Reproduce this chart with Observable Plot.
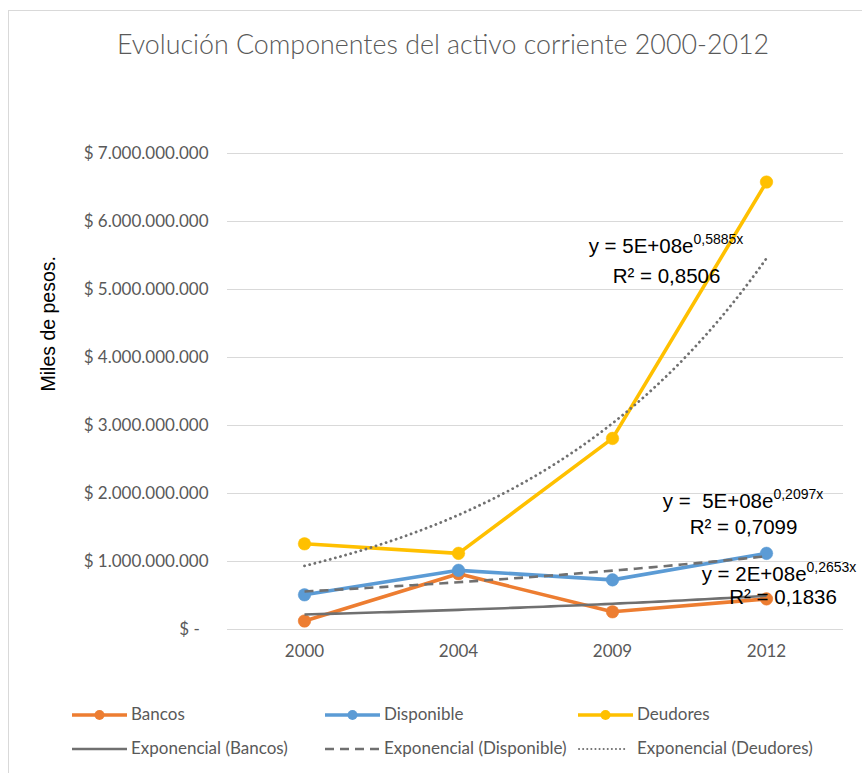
<!DOCTYPE html>
<html><head><meta charset="utf-8">
<script src="https://cdn.jsdelivr.net/npm/d3@7"></script>
<script src="https://cdn.jsdelivr.net/npm/@observablehq/plot@0.6"></script>
<style>
body{margin:0;background:#fff;}
#wrap{position:relative;width:862px;height:773px;overflow:hidden;font-family:Lato,sans-serif;background:#fff;}
#frame{position:absolute;left:8px;top:10px;width:900px;height:800px;border-left:1.5px solid #d9d9d9;border-top:1.5px solid #d9d9d9;}
#title{position:absolute;left:0;width:886px;top:28px;text-align:center;font-size:26.8px;font-weight:300;color:#595959;white-space:nowrap;}
#chart{position:absolute;left:0;top:120px;}
.leg{position:absolute;font-size:17px;color:#595959;white-space:nowrap;line-height:18px;}
.sw{position:absolute;}
</style></head><body>
<div id="wrap"><div id="frame"></div><div id="title">Evolución Componentes del activo corriente 2000-2012</div><div id="chart"></div><div id="legend"></div></div>
<script>
const years = ["2000", "2004", "2009", "2012"];
const bancos = [0.125e9, 0.82e9, 0.26e9, 0.45e9];
const disponible = [0.51e9, 0.87e9, 0.73e9, 1.12e9];
const deudores = [1.26e9, 1.12e9, 2.81e9, 6.58e9];
const yTickValues = [0, 1e9, 2e9, 3e9, 4e9, 5e9, 6e9, 7e9];
const seriesNames = ["Bancos", "Disponible", "Deudores"];
const trendNames = ["Exponencial (Bancos)", "Exponencial (Disponible)", "Exponencial (Deudores)"];
const eqMain = ["y = 5E+08e", "y =  5E+08e", "y = 2E+08e"];
const eqExp = ["0,5885x", "0,2097x", "0,2653x"];
const eqR2 = ["R² = 0,8506", "R² = 0,7099", "R² = 0,1836"];
const eqMainX = [3.526, 4.045, 4.26], eqMainY = [5.53e9, 1.79e9, 0.72e9];
const eqR2X = [3.351, 3.851, 4.107], eqR2Y = [5.10e9, 1.41e9, 0.38e9];

const colors = ["#ED7D31", "#5B9BD5", "#FFC000"];
const trendColor = "#707070";
const dashes = [null, "9,6", "0.1,5.2"];

const seriesVals = [bancos, disponible, deudores];
const rows = [];
seriesVals.forEach((vals, s) => vals.forEach((v, i) => rows.push({s: seriesNames[s], x: i + 1, y: v})));

function expFit(vals) {
  const xs = vals.map((_, i) => i + 1), ly = vals.map(Math.log);
  const mx = d3.mean(xs), my = d3.mean(ly);
  const b = d3.sum(xs, (x, i) => (x - mx) * (ly[i] - my)) / d3.sum(xs, x => (x - mx) ** 2);
  const a = Math.exp(my - b * mx);
  return {a, b};
}
const trends = seriesVals.map((vals, s) => {
  const {a, b} = expFit(vals);
  return d3.range(1, 4.0001, 0.05).map(x => ({s: trendNames[s], x, y: a * Math.exp(b * x)}));
});

const yFmt = d => d === 0 ? "$ -\u00a0\u00a0" : "$ " + d3.format(",")(d).replace(/,/g, ".");
const eqFont = "'Liberation Sans', Arial, sans-serif";

const marks = [
  Plot.gridY(yTickValues, {stroke: "#d9d9d9", strokeOpacity: 1, strokeWidth: 1}),
  Plot.axisY({ticks: yTickValues, tickFormat: yFmt, tickSize: 0, tickPadding: 19, fontSize: 17, fill: "#595959", label: null}),
  Plot.axisX({ticks: [1, 2, 3, 4], tickFormat: d => years[d - 1], tickSize: 0, tickPadding: 15, fontSize: 17, fill: "#595959", label: null}),
  Plot.text(["Miles de pesos."], {frameAnchor: "left", dx: -179, rotate: -90, fontSize: 19.5, fontFamily: eqFont, fill: "#000"})
];
seriesNames.forEach((name, s) => {
  const d = rows.filter(r => r.s === name);
  marks.push(Plot.line(d, {x: "x", y: "y", stroke: colors[s], strokeWidth: 3.6, strokeLinejoin: "round"}));
  marks.push(Plot.dot(d, {x: "x", y: "y", r: 6.3, fill: colors[s], stroke: colors[s], strokeWidth: 0.5}));
});
trends.forEach((t, s) => {
  marks.push(Plot.line(t, {x: "x", y: "y", stroke: trendColor, strokeWidth: s === 2 ? 2.8 : 2.6, strokeDasharray: dashes[s], strokeLinecap: s === 2 ? "round" : "butt", curve: "linear"}));
});
eqMain.forEach((t, i) => {
  marks.push(Plot.text([t], {x: () => eqMainX[i], y: () => eqMainY[i], text: d => d, textAnchor: "end", lineAnchor: "bottom", fontSize: 20.5, fontFamily: eqFont, fill: "#000"}));
  marks.push(Plot.text([eqExp[i]], {x: () => eqMainX[i], y: () => eqMainY[i], text: d => d, textAnchor: "start", lineAnchor: "bottom", dy: -9, fontSize: 14, fontFamily: eqFont, fill: "#000"}));
  marks.push(Plot.text([eqR2[i]], {x: () => eqR2X[i], y: () => eqR2Y[i], text: d => d, textAnchor: "middle", lineAnchor: "bottom", fontSize: 20.5, fontFamily: eqFont, fill: "#000"}));
});

const chart = Plot.plot({
  width: 862, height: 550,
  marginLeft: 227, marginRight: 19, marginTop: 33, marginBottom: 41,
  style: {fontFamily: "Lato, sans-serif", background: "transparent", overflow: "visible"},
  x: {type: "linear", domain: [0.5, 4.5]},
  y: {domain: [0, 7e9]},
  marks
});
document.getElementById("chart").appendChild(chart);

// legend
const legCols = [72, 325, 578], legRows = [715, 749];
const leg = document.getElementById("legend");
const ns = "http://www.w3.org/2000/svg";
function addItem(col, row, label, draw) {
  const svg = document.createElementNS(ns, "svg");
  svg.setAttribute("width", 58); svg.setAttribute("height", 16);
  svg.setAttribute("class", "sw");
  svg.style.left = legCols[col] + "px"; svg.style.top = (legRows[row] - 8) + "px";
  draw(svg);
  leg.appendChild(svg);
  const t = document.createElement("div");
  t.className = "leg"; t.textContent = label;
  t.style.left = (legCols[col] + 59) + "px"; t.style.top = (legRows[row] - 10) + "px";
  leg.appendChild(t);
}
function el(tag, attrs) { const e = document.createElementNS(ns, tag); for (const k in attrs) e.setAttribute(k, attrs[k]); return e; }
seriesNames.forEach((name, s) => addItem(s, 0, name, svg => {
  svg.appendChild(el("line", {x1: 0, x2: 55, y1: 8, y2: 8, stroke: colors[s], "stroke-width": 3.6}));
  svg.appendChild(el("circle", {cx: 27.5, cy: 8, r: 5, fill: colors[s]}));
}));
trendNames.forEach((name, s) => addItem(s, 1, name, svg => {
  const a = {x1: s === 2 ? 1 : 0, x2: s === 2 ? 50 : 55, y1: 8, y2: 8, stroke: trendColor, "stroke-width": s === 2 ? 2 : 2.6};
  if (dashes[s]) a["stroke-dasharray"] = s === 2 ? "0.1,4" : "9,6";
  if (s === 2) a["stroke-linecap"] = "round";
  svg.appendChild(el("line", a));
}));
</script>
</body></html>
